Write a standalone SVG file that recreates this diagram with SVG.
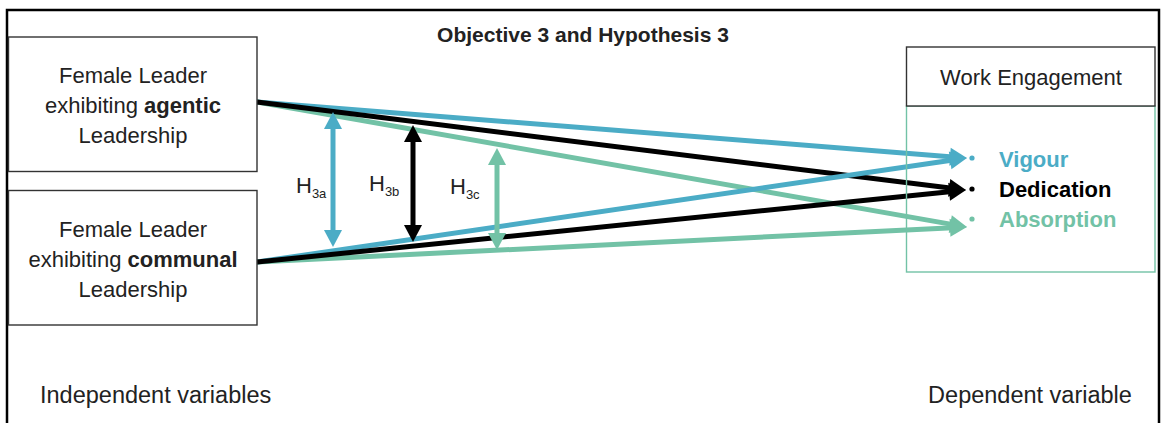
<svg xmlns="http://www.w3.org/2000/svg" width="1166" height="423" viewBox="0 0 1166 423">
<defs>
<style>
text{font-family:"Liberation Sans",Arial,sans-serif;fill:#222}
.box{fill:#fff;stroke:#333;stroke-width:1.4}
.lbl{font-size:22px;text-anchor:middle}
.b{font-weight:bold}
.cy{stroke:#4BACC6;fill:none;stroke-width:5}
.bk{stroke:#000;fill:none;stroke-width:5}
.gr{stroke:#72C2A6;fill:none;stroke-width:5}
.h{font-size:22px}
.sub{font-size:13px}
.cap{font-size:23.5px}
</style>
<marker id="mc" markerUnits="userSpaceOnUse" markerWidth="20" markerHeight="20" viewBox="0 -10 18 20" refX="3" refY="0" orient="auto-start-reverse"><path d="M0,-9 L17,0 L0,9 z" fill="#4BACC6"/></marker>
<marker id="mb" markerUnits="userSpaceOnUse" markerWidth="20" markerHeight="20" viewBox="0 -10 18 20" refX="3" refY="0" orient="auto-start-reverse"><path d="M0,-9 L17,0 L0,9 z" fill="#000"/></marker>
<marker id="mg" markerUnits="userSpaceOnUse" markerWidth="20" markerHeight="20" viewBox="0 -10 18 20" refX="3" refY="0" orient="auto-start-reverse"><path d="M0,-9 L17,0 L0,9 z" fill="#72C2A6"/></marker>
</defs>
<rect width="1166" height="423" fill="#fff"/>
<path d="M7,430 V10 H1159 V430" fill="none" stroke="#000" stroke-width="2.5"/>
<text x="583" y="42" class="b" font-size="21" text-anchor="middle" fill="#000">Objective 3 and Hypothesis 3</text>

<g id="connectors">
<line class="cy" x1="257" y1="102" x2="953" y2="156.9" marker-end="url(#mc)"/>
<line class="gr" x1="257" y1="102" x2="953.2" y2="224.6" marker-end="url(#mg)"/>
<line class="bk" x1="257" y1="102" x2="952.1" y2="188.3" marker-end="url(#mb)"/>
<line class="cy" x1="257" y1="262" x2="953.1" y2="160" marker-end="url(#mc)"/>
<line class="gr" x1="257" y1="262" x2="953" y2="227.7" marker-end="url(#mg)"/>
<line class="bk" x1="257" y1="262" x2="952.1" y2="191.4" marker-end="url(#mb)"/>
<line class="cy" x1="333" y1="126" x2="333" y2="233" marker-start="url(#mc)" marker-end="url(#mc)"/>
<line class="bk" x1="413" y1="139" x2="413" y2="228" marker-start="url(#mb)" marker-end="url(#mb)"/>
<line class="gr" x1="497" y1="162" x2="497" y2="236" marker-start="url(#mg)" marker-end="url(#mg)"/>
</g>

<g id="h3a"><text x="296" y="193" class="h">H<tspan class="sub" dy="5">3a</tspan></text></g>
<g id="h3b"><text x="369" y="191" class="h">H<tspan class="sub" dy="5">3b</tspan></text></g>
<g id="h3c"><text x="450" y="194" class="h">H<tspan class="sub" dy="5">3c</tspan></text></g>

<g id="agentic">
<rect class="box" x="8.5" y="37" width="248.5" height="134.5"/>
<text class="lbl" x="133" y="83">Female Leader</text>
<text class="lbl" x="133" y="113">exhibiting <tspan class="b">agentic</tspan></text>
<text class="lbl" x="133" y="143">Leadership</text>
</g>

<g id="communal">
<rect class="box" x="8.5" y="190.5" width="248.5" height="134.5"/>
<text class="lbl" x="133" y="237">Female Leader</text>
<text class="lbl" x="133" y="267">exhibiting <tspan class="b">communal</tspan></text>
<text class="lbl" x="133" y="297">Leadership</text>
</g>

<g id="work-engagement">
<rect x="906.5" y="106" width="248.5" height="166" fill="none" stroke="#72C2A6" stroke-width="1.4"/>
<rect class="box" x="906.5" y="47" width="248.5" height="59" stroke="#000"/>
<text class="lbl" x="1031" y="85">Work Engagement</text>
<circle cx="972" cy="158" r="2.6" fill="#4BACC6"/>
<circle cx="972" cy="189" r="2.6" fill="#000"/>
<circle cx="972" cy="219" r="2.6" fill="#72C2A6"/>
<text x="999" y="167" class="b" font-size="22" style="fill:#4BACC6">Vigour</text>
<text x="999" y="197" class="b" font-size="22" style="fill:#000">Dedication</text>
<text x="999" y="227" class="b" font-size="22" style="fill:#72C2A6">Absorption</text>
</g>

<g id="captions">
<text x="40" y="403" class="cap">Independent variables</text>
<text x="1030" y="403" class="cap" text-anchor="middle">Dependent variable</text>
</g>
</svg>
